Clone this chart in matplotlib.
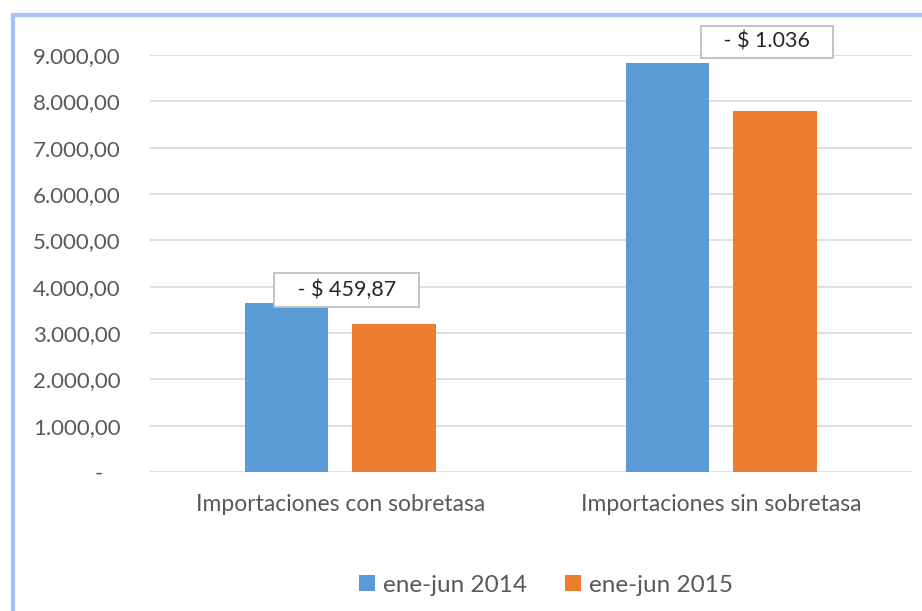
import numpy as np
import matplotlib.pyplot as plt
from matplotlib.patches import Rectangle
from matplotlib.ticker import FuncFormatter

# data
categories = ['Importaciones con sobretasa', 'Importaciones sin sobretasa']
series_names = ['ene-jun 2014', 'ene-jun 2015']
values_2014 = [3650.0, 8825.0]
values_2015 = [3190.13, 7789.0]
diff_labels = ['- $ 459,87', '- $ 1.036']

blue = '#5b9bd5'
orange = '#ed7d31'
text_grey = '#595959'

plt.rcParams['font.family'] = ['Lato', 'DejaVu Sans']

fig = plt.figure(figsize=(9.22, 6.11), dpi=100)
ax = fig.add_axes([0.1627, 0.2275, 0.8263, 0.6825])

x = np.arange(len(categories))
w = 0.22
off = 0.1415
ax.bar(x - off, values_2014, w, color=blue, label=series_names[0], zorder=3)
ax.bar(x + off, values_2015, w, color=orange, label=series_names[1], zorder=3)

ax.set_xlim(-0.5, 1.5)
ax.set_ylim(0, 9000)
ax.set_yticks(np.arange(0, 9001, 1000))


def fmt(v, pos):
    # accounting style: zero shown as a dash
    if v == 0:
        return '-\u00a0\u00a0\u00a0'
    s = f'{v:,.2f}'
    return s.replace(',', 'X').replace('.', ',').replace('X', '.')


ax.yaxis.set_major_formatter(FuncFormatter(fmt))
ax.set_xticks(x)
ax.set_xticklabels(categories)
ax.tick_params(axis='y', length=0, pad=21, labelsize=16, labelcolor=text_grey)
ax.tick_params(axis='x', length=0, pad=16, labelsize=16.5, labelcolor=text_grey)
ax.grid(axis='y', color='#d9d9d9', linewidth=1.2, zorder=0)
for s in ax.spines.values():
    s.set_visible(False)

# difference boxes above the 2014 bars
box_dx = [0.016, 0.12]
box_dy = [2, 8]
for i, lab in enumerate(diff_labels):
    ax.annotate('   ' + lab + '   ', xy=(x[i] + box_dx[i], values_2014[i]), xytext=(0, box_dy[i]),
                textcoords='offset points', ha='center', va='bottom',
                fontsize=15.5, color='#262626', annotation_clip=False,
                bbox=dict(boxstyle='square,pad=0.3', fc='white', ec='#bfbfbf', lw=1.3),
                zorder=5)

leg = fig.legend(loc='center', bbox_to_anchor=(546 / 922, 1 - 585 / 611), ncol=2,
                 frameon=False, fontsize=17.5, handlelength=0.65, handleheight=0.65,
                 handletextpad=0.3, columnspacing=1.6)
for t in leg.get_texts():
    t.set_color(text_grey)

# light blue frame around the chart (cut on right and bottom)
fig.patches.append(Rectangle((13 / 922, -0.1), 1.2, 1 - 15 / 611 + 0.1,
                             transform=fig.transFigure, fill=False,
                             ec='#a4c2f4', lw=3, zorder=0))

fig.savefig('out.png', dpi=100)
